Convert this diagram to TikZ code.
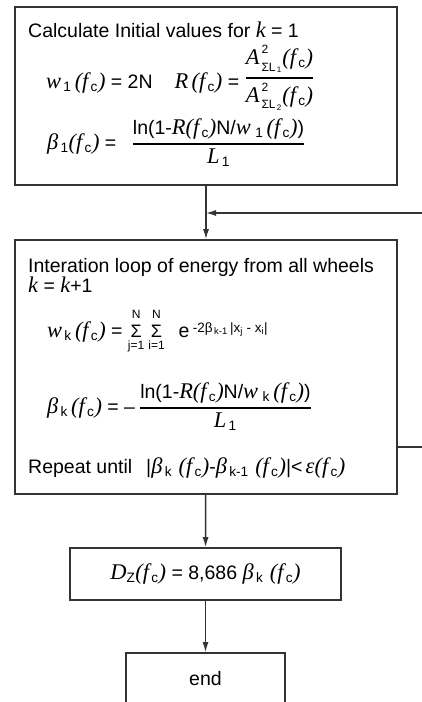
\documentclass[tikz,border=0pt]{standalone}
\usepackage{fontspec}
\usepackage{amsmath}
\setmainfont{Liberation Sans}
\newfontfamily\tms[Scale=1.15]{Liberation Serif}
\usetikzlibrary{arrows.meta}

\newcommand{\iv}[1]{{\tms\itshape #1}}
\newcommand{\lo}[1]{\textsubscript{#1}}
\newcommand{\fc}{\iv{(f}\lo{\,c}\iv{)}}
\newcommand{\sm}{\fontsize{12}{13}\selectfont}
\newcommand{\fr}[2]{$\genfrac{}{}{1.4pt}{0}{\mbox{#1}}{\mbox{#2}}$}
\newcommand{\sumto}[1]{$\mathop{\mbox{\fontsize{18}{18}\selectfont Σ}}\limits^{\raisebox{2pt}{\sm N}}_{\mbox{\sm #1=1}}$}
\newcommand{\asq}[1]{$\mbox{\iv{A}}^{\raisebox{2pt}{\sm\,2}}_{\raisebox{-1.5pt}{\sm\,ΣL\lo{\,#1}}}$\fc}

\begin{document}
\begin{tikzpicture}[x=1pt, y=-1pt,
        >={Latex[length=10pt,width=6pt]},
        stepbox/.style={draw=black!80, line width=1.6pt, inner sep=0pt, align=center, font=\fontsize{19.5}{23}\selectfont},
        txt/.style={anchor=base west, inner sep=0pt, font=\fontsize{19.5}{23}\selectfont}
      ]
      \clip (0,0) rectangle (422,702);

      % Initial values
      \node[stepbox, minimum width=382pt, minimum height=178pt] (init) at (206, 96) {};
      \node[txt] (t1) at (28, 37) {Calculate Initial values for \iv{k} = 1};
      \node[txt] (t2) at (46, 88) {\iv{w}\lo{\,1}\,\fc{} = 2N\hspace{22pt}\iv{R}\,\fc{} = \raisebox{5pt}{\fr{\asq{1}}{\asq{2}}}};
      \node[txt] (t3) at (47, 149) {\iv{β}\lo{\,1}\fc{} = \hspace{10pt}\fr{ln(1-\iv{R}\fc N/\iv{w}\lo{\,\,1}\,\fc)}{\iv{L}\lo{\,1}}};

      % Iteration loop
      \node[stepbox, minimum width=382pt, minimum height=254pt] (iter) at (206, 367) {};
      \node[txt] (t4) at (28, 272) {Interation loop of energy from all wheels};
      \node[txt] (t5) at (28, 292) {\iv{k} = \iv{k}+1};
      \node[txt] (t6) at (47, 337) {\iv{w}\lo{\,k}\,\fc{} = \sumto{j}\hspace{4pt}\sumto{i}\hspace{14pt}e\,\raisebox{5pt}{\fontsize{13.5}{13}\selectfont -2β\lo{\,k-1}\,|x\lo{j} - x\lo{i}|}};
      \node[txt] (t7) at (47, 413) {\iv{β}\lo{\,k}\,\fc{} = --\hspace{4pt}\fr{ln(1-\iv{R}\fc N/\iv{w}\lo{\,\,k}\,\fc)}{\iv{L}\lo{\,1}}};
      \node[txt] (t8) at (28, 473) {Repeat until\hspace{14pt}|\iv{β}\lo{\,k}\,\,\fc-\iv{β}\lo{\,k-1}\,\,\fc|<\,\iv{ε}\fc};

      % Result and end
      \node[stepbox, minimum width=271pt, minimum height=52pt] (res) at (205.5, 574) {\iv{D}\lo{Z}\fc{} = 8,686 \iv{β}\lo{\,k}\,\,\fc};
      \node[stepbox, minimum width=159pt, minimum height=52pt] (end) at (205.5, 679) {end};

      % Connectors
      \coordinate (join) at (206, 213);
      \coordinate (back) at (397, 447);
      \draw[->, line width=1.4pt, draw=black!80] (init) -- (iter);
      \draw[->, line width=1.4pt, draw=black!80] (back) -- ++(40,0) |- (join);
      \draw[->, line width=1.4pt, draw=black!80] (iter) -- (res);
      \draw[->, line width=1.4pt, draw=black!80] (res) -- (end);

    \end{tikzpicture}
\end{document}
